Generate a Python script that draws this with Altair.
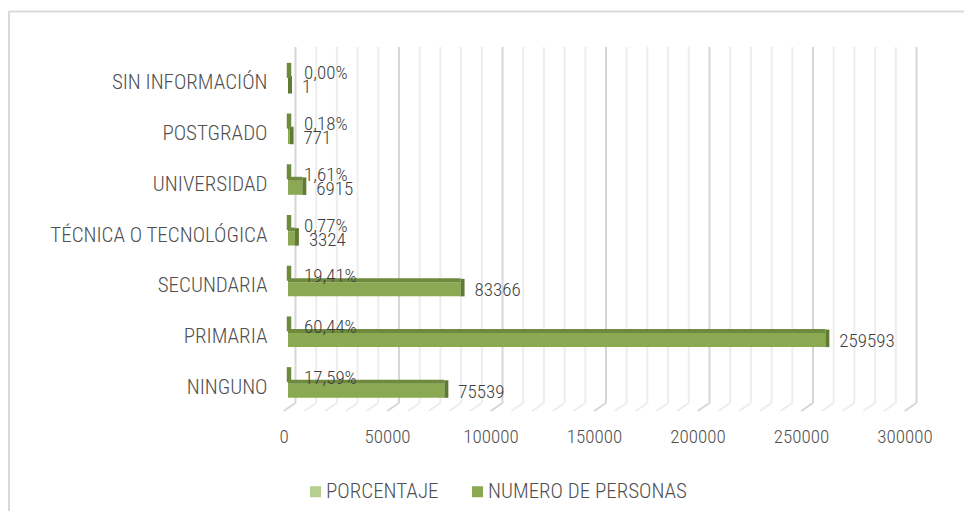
import altair as alt
import pandas as pd

# ---- data ----
categorias = ["SIN INFORMACIÓN", "POSTGRADO", "UNIVERSIDAD", "TÉCNICA O TECNOLÓGICA",
              "SECUNDARIA", "PRIMARIA", "NINGUNO"]
numero_personas = [1, 771, 6915, 3324, 83366, 259593, 75539]
porcentaje = [0.0000, 0.0018, 0.0161, 0.0077, 0.1941, 0.6044, 0.1759]
series = ["PORCENTAJE", "NUMERO DE PERSONAS"]
x_ticks = [0, 50000, 100000, 150000, 200000, 250000, 300000]
grid_minor = [v for v in range(0, 300001, 10000) if v not in x_ticks]

FONT = "Liberation Sans Narrow, Arial Narrow, Roboto Condensed, DejaVu Sans Condensed, sans-serif"
FS = 19
FSL = 21
FW = 300
TXT = "#505050"
LIGHT = "#B5CF8F"
MID = "#8BA852"
DARK = "#6E8B3D"
SIDE = "#5F7A31"

rows = []
for c, n, p in zip(categorias, numero_personas, porcentaje):
    rows.append({"cat": c, "serie": series[0], "valor": p,
                 "etiqueta": f"{p*100:.2f}%".replace(".", ",")})
    rows.append({"cat": c, "serie": series[1], "valor": n, "etiqueta": str(n)})
df = pd.DataFrame(rows)

xscale = alt.Scale(domain=[0, 300000], nice=False, zero=True)
yscale = alt.Scale(domain=categorias, paddingInner=0, paddingOuter=0)

y_axis = alt.Axis(title=None, ticks=False, domain=False, grid=False, labelFont=FONT,
                  labelFontSize=FSL, labelFontWeight=FW, labelColor=TXT, labelPadding=21,
                  labelLimit=400)
x_axis = alt.Axis(title=None, ticks=False, domain=False, grid=False, values=x_ticks,
                  format="d", labelFont=FONT, labelFontSize=FS, labelFontWeight=FW,
                  labelColor=TXT, labelPadding=14, labelOffset=-4.5, labelFlush=False)

def X(field="valor:Q"):
    return alt.X(field, scale=xscale, axis=x_axis, title=None)

def Y():
    return alt.Y("cat:N", scale=yscale, sort=categorias, axis=y_axis, title=None)

color = alt.Color("serie:N", scale=alt.Scale(domain=series, range=[LIGHT, MID]),
                  legend=alt.Legend(title=None, orient="none", direction="horizontal",
                                    legendX=17, legendY=423, symbolType="square",
                                    symbolSize=121, symbolStrokeWidth=0, labelFont=FONT,
                                    labelFontSize=FSL, labelFontWeight=FW, labelColor=TXT,
                                    labelOffset=0, columnPadding=28, padding=0,
                                    labelLimit=400))

one = pd.DataFrame({"d": [0]})
frame_top = alt.Chart(one).mark_rule(color="#D9D9D9", strokeWidth=2).encode(
    x=alt.value(-279), x2=alt.value(680), y=alt.value(-46.5))
frame_left = alt.Chart(one).mark_rule(color="#D9D9D9", strokeWidth=2).encode(
    x=alt.value(-279), y=alt.value(-46.5), y2=alt.value(460))

gmin = pd.DataFrame({"g": grid_minor})
gmaj = pd.DataFrame({"g": x_ticks})

def grid_layers(data, col):
    vert = alt.Chart(data).mark_rule(color=col, strokeWidth=2, xOffset=7.5).encode(
        x=X("g:Q"), y=alt.value(-11), y2=alt.value(345))
    floor = alt.Chart(data).mark_rule(color=col, strokeWidth=2, xOffset=-4.3,
                                      x2Offset=7.4).encode(
        x=X("g:Q"), x2=alt.X2("g:Q"),
        y=alt.value(353), y2=alt.value(345))
    return [vert, floor]

base = alt.Chart(df)
num = base.transform_filter(alt.datum.serie == series[1])
pct = base.transform_filter(alt.datum.serie == series[0])

bars_pct = pct.mark_bar(size=15, yOffset=-13).encode(x=X(), y=Y(), color=color)
stub_pct = pct.mark_tick(orient="vertical", thickness=4.5, size=15, yOffset=-13,
                         xOffset=1, color=DARK, opacity=1).encode(x=X(), y=Y())
bars_num = num.mark_bar(size=14, yOffset=3).encode(x=X(), y=Y(), color=color)
top_num = num.mark_bar(size=4, yOffset=-6, color=DARK).encode(x=X(), y=Y())
side_num = num.mark_tick(orient="vertical", thickness=4, size=17.5, yOffset=1.4,
                         xOffset=2, color=SIDE, opacity=1).encode(x=X(), y=Y())

txt_pct = pct.mark_text(align="left", baseline="middle", dx=16, yOffset=-10,
                        font=FONT, fontSize=FS, fontWeight=FW, color="#404040").encode(
    x=X(), y=Y(), text="etiqueta:N")
txt_num = num.mark_text(align="left", baseline="middle", dx=14, yOffset=4,
                        font=FONT, fontSize=FS, fontWeight=FW, color="#404040").encode(
    x=X(), y=Y(), text="etiqueta:N")

layers = [frame_top, frame_left] + grid_layers(gmin, "#EDEDED") + grid_layers(gmaj, "#D6D6D6") + \
    [bars_pct, bars_num, top_num, side_num, stub_pct, txt_pct, txt_num]

chart = alt.layer(*layers).properties(
    width=621, height=355,
    autosize=alt.AutoSizeParams(type="none"),
    padding={"left": 280, "top": 50, "right": 55, "bottom": 98},
    background="white",
).configure_view(stroke=None)

chart.save("out.html", embed_options={"renderer": "svg", "actions": False})
